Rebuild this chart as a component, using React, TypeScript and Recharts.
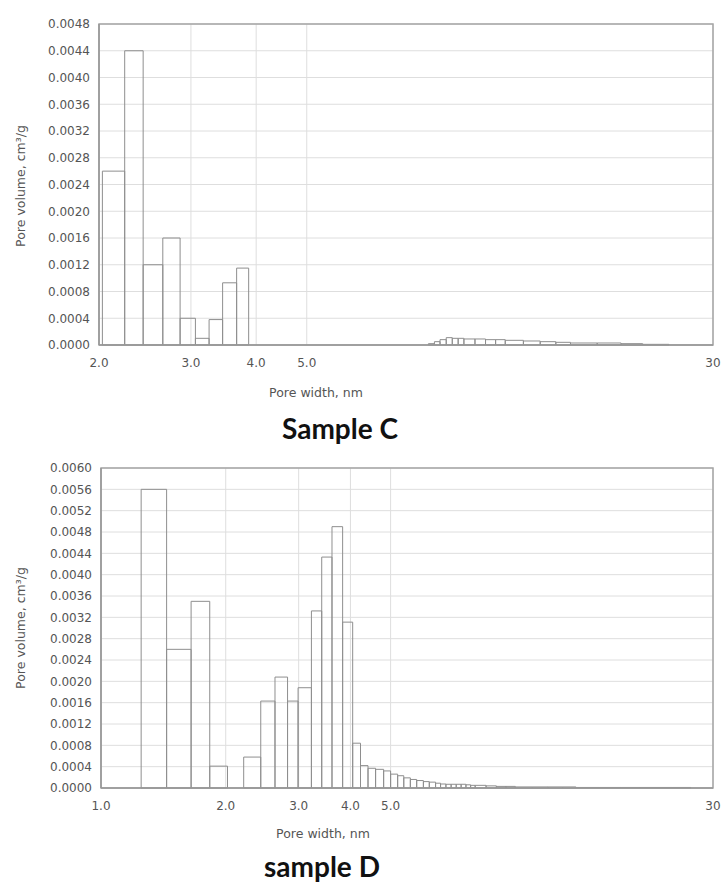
import React from 'react';
import { ComposedChart, XAxis, YAxis, CartesianGrid, ReferenceArea, Line } from 'recharts';

// ---------- Sample C ----------
const cMainEdges = [2.03, 2.24, 2.43, 2.65, 2.86, 3.06, 3.25, 3.45, 3.67, 3.87];
const cMainValues = [0.0026, 0.0044, 0.0012, 0.0016, 0.0004, 0.0001, 0.00038, 0.00093, 0.00115];
const cTailEdges = [8.55, 8.78, 9.0, 9.25, 9.5, 9.75, 10.0, 10.5, 11.0, 11.5, 12.0, 13.0, 14.0, 15.0, 16.0, 18.0, 20.0, 22.0, 24.7];
const cTailValues = [0.00002, 0.00005, 0.00008, 0.00011, 0.0001, 0.0001, 0.00009, 0.00009, 0.00008, 0.00008, 0.00007, 0.00006, 0.00005, 0.00004, 0.00003, 0.00003, 0.00002, 0.00001];
const cXTicks = [2, 3, 4, 5, 30];
const cYTicks = [0, 0.0004, 0.0008, 0.0012, 0.0016, 0.002, 0.0024, 0.0028, 0.0032, 0.0036, 0.004, 0.0044, 0.0048];

// ---------- Sample D ----------
const dMainEdges = [1.25, 1.44, 1.65, 1.83, 2.02, 2.21, 2.43, 2.63, 2.82, 2.99, 3.22, 3.41, 3.61, 3.83, 4.05, 4.23];
const dMainValues = [0.0056, 0.0026, 0.0035, 0.00041, 0, 0.00058, 0.00163, 0.00208, 0.00163, 0.00188, 0.00332, 0.00433, 0.0049, 0.00311, 0.00084];
const dTailEdges = [4.23, 4.41, 4.6, 4.81, 5.0, 5.2, 5.38, 5.58, 5.78, 6.0, 6.2, 6.42, 6.6, 6.8, 7.0, 7.2, 7.4, 7.6, 7.8, 8.0, 8.5, 9.0, 9.5, 10.0, 11.0, 12.0, 13.0, 14.0, 16.0, 18.0, 20.0, 22.0, 24.0, 26.5];
const dTailValues = [0.00042, 0.00037, 0.00035, 0.00032, 0.00026, 0.00023, 0.00019, 0.00016, 0.00014, 0.00012, 0.00011, 0.00009, 0.000075, 0.00007, 0.00007, 0.00007, 0.00007, 0.00006, 0.00005, 0.00005, 0.00004, 0.00003, 0.00003, 0.00002, 0.00002, 0.00002, 0.00002, 0.00001, 0.00001, 0.00001, 0.00001, 0.00001, 0.00001];
const dXTicks = [1, 2, 3, 4, 5, 30];
const dYTicks = [0, 0.0004, 0.0008, 0.0012, 0.0016, 0.002, 0.0024, 0.0028, 0.0032, 0.0036, 0.004, 0.0044, 0.0048, 0.0052, 0.0056, 0.006];

const xLabel = 'Pore width, nm';
const yLabel = 'Pore volume, cm³/g';

type Bin = { lo: number; hi: number; v: number; x: number };
function toBins(edges: number[], values: number[]): Bin[] {
  return values.map((v, i) => ({ lo: edges[i], hi: edges[i + 1], v, x: Math.sqrt(edges[i] * edges[i + 1]) }));
}

const tickStyle = { fill: '#555', fontSize: 12, fontFamily: 'DejaVu Sans' };
const fmtX = (v: number) => (v >= 10 ? String(v) : v.toFixed(1));
const fmtY = (v: number) => v.toFixed(4);

function Hist({ bins, xDomain, xTicks, yTicks, top, marginLeft, marginBottom }: any) {
  const yMax = yTicks[yTicks.length - 1];
  return (
    <div style={{ position: 'absolute', left: 0, top }}>
      <ComposedChart
        width={721}
        height={400}
        data={bins}
        margin={{ top: 24, right: 8, left: marginLeft, bottom: marginBottom }}
      >
        <CartesianGrid stroke="#dedede" strokeWidth={1} />
        <XAxis
          dataKey="x"
          type="number"
          scale="log"
          domain={xDomain}
          allowDataOverflow
          ticks={xTicks}
          tickFormatter={fmtX}
          tick={tickStyle}
          tickLine={false}
          tickMargin={7}
          height={30}
          axisLine={{ stroke: '#999', strokeWidth: 1.5 }}
        />
        <YAxis
          type="number"
          domain={[0, yMax]}
          ticks={yTicks}
          tickFormatter={fmtY}
          tick={tickStyle}
          tickLine={false}
          tickMargin={3}
          width={60}
          interval={0}
          allowDataOverflow
          axisLine={{ stroke: '#999', strokeWidth: 1.5 }}
        />
        <ReferenceArea
          x1={xDomain[0]}
          x2={xDomain[1]}
          y1={0}
          y2={yMax}
          fill="none"
          fillOpacity={0}
          stroke="#a5a5a5"
          strokeWidth={1.5}
        />
        {bins.map((b: Bin, i: number) => (
          <ReferenceArea
            key={i}
            x1={b.lo}
            x2={b.hi}
            y1={0}
            y2={b.v}
            fill="none"
            fillOpacity={0}
            stroke="#8e8e8e"
            strokeWidth={1}
          />
        ))}
        <Line dataKey="v" stroke="none" dot={false} activeDot={false} isAnimationActive={false} />
      </ComposedChart>
    </div>
  );
}

const axisTitle: React.CSSProperties = {
  position: 'absolute',
  fontFamily: 'DejaVu Sans',
  fontSize: 12.5,
  color: '#555',
  whiteSpace: 'nowrap',
  textAlign: 'center',
  width: 200,
  lineHeight: '16px',
};
const sampleTitle: React.CSSProperties = {
  position: 'absolute',
  fontFamily: 'Lato',
  fontWeight: 700,
  fontSize: 28,
  color: '#111',
  whiteSpace: 'nowrap',
  textAlign: 'center',
  width: 200,
  lineHeight: '30px',
};

export default function App() {
  const cBins = [...toBins(cMainEdges, cMainValues), ...toBins(cTailEdges, cTailValues)];
  const dBins = [...toBins(dMainEdges, dMainValues), ...toBins(dTailEdges, dTailValues)];
  return (
    <div style={{ position: 'absolute', left: 0, top: 0, width: 721, height: 883, background: '#fff', overflow: 'hidden' }}>
      <Hist bins={cBins} xDomain={[2, 30]} xTicks={cXTicks} yTicks={cYTicks} top={0} marginLeft={39} marginBottom={25} />
      <div style={{ ...axisTitle, left: 316 - 100, top: 393 - 8 }}>{xLabel}</div>
      <div style={{ ...sampleTitle, left: 340 - 100, top: 428 - 15 }}>Sample C</div>
      <div style={{ ...axisTitle, left: 21 - 100, top: 186 - 8, transform: 'rotate(-90deg)' }}>{yLabel}</div>

      <Hist bins={dBins} xDomain={[1, 30]} xTicks={dXTicks} yTicks={dYTicks} top={444} marginLeft={41} marginBottom={26} />
      <div style={{ ...axisTitle, left: 323 - 100, top: 834 - 8 }}>{xLabel}</div>
      <div style={{ ...sampleTitle, fontSize: 28, left: 322 - 100, top: 851 }}>sample D</div>
      <div style={{ ...axisTitle, left: 21 - 100, top: 628 - 8, transform: 'rotate(-90deg)' }}>{yLabel}</div>
    </div>
  );
}
